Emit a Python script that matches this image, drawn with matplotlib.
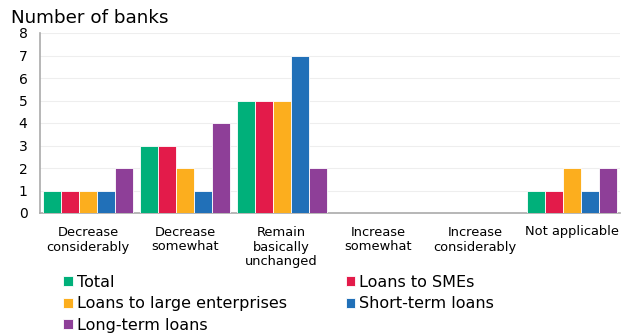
import matplotlib
matplotlib.use("Agg")
import matplotlib.pyplot as plt
import numpy as np

categories = ["Decrease\nconsiderably", "Decrease\nsomewhat", "Remain\nbasically\nunchanged",
              "Increase\nsomewhat", "Increase\nconsiderably", "Not applicable"]
series_names = ["Total", "Loans to SMEs", "Loans to large enterprises",
                "Short-term loans", "Long-term loans"]
total = [1, 3, 5, 0, 0, 1]
smes = [1, 3, 5, 0, 0, 1]
large = [1, 2, 5, 0, 0, 2]
short_term = [1, 1, 7, 0, 0, 1]
long_term = [2, 4, 2, 0, 0, 2]
colors = ["#00b07a", "#e31b4a", "#fcae1e", "#2170b8", "#8e3f98"]

series = [total, smes, large, short_term, long_term]

fig = plt.figure(figsize=(6.29, 3.33), dpi=100)
ax = fig.add_axes([40/629, 1 - 213/333, 580/629, 180/333])

x = np.arange(len(categories))
n = len(series)
group_w = 0.93
bw = group_w / n
for i, (vals, c, name) in enumerate(zip(series, colors, series_names)):
    ax.bar(x - group_w/2 + bw*(i + 0.5), vals, width=bw, color=c, label=name,
           edgecolor="white", linewidth=0.6, zorder=3)

ax.set_xlim(-0.5, len(categories) - 0.5)
ax.set_ylim(0, 8)
ax.set_yticks(range(0, 9))
ax.yaxis.grid(True, color="#eeeeee", linewidth=0.8, zorder=0)
ax.set_xticks(x)
ax.set_xticklabels(categories, fontsize=9.4, linespacing=1.2)
ax.tick_params(axis="y", labelsize=10, length=0, pad=9)
ax.tick_params(axis="x", length=0, pad=9)
for s in ["top", "right"]:
    ax.spines[s].set_visible(False)
for s in ["left", "bottom"]:
    ax.spines[s].set_color("#aaaaaa")
    ax.spines[s].set_linewidth(1.2)

fig.text(11/629, 1 - 18/333, "Number of banks", fontsize=13.2, va="center", ha="left")

handles, labels = ax.get_legend_handles_labels()
order = [0, 2, 4, 1, 3]
leg = fig.legend([handles[i] for i in order], [labels[i] for i in order],
                 loc="upper left", bbox_to_anchor=(63/629, 1 - 275/333), ncol=2,
                 frameon=False, fontsize=11.5, handlelength=0.6, handleheight=0.6,
                 handletextpad=0.25, columnspacing=3.7, labelspacing=0.4,
                 borderpad=0, borderaxespad=0)

fig.savefig("out.png", dpi=100)
